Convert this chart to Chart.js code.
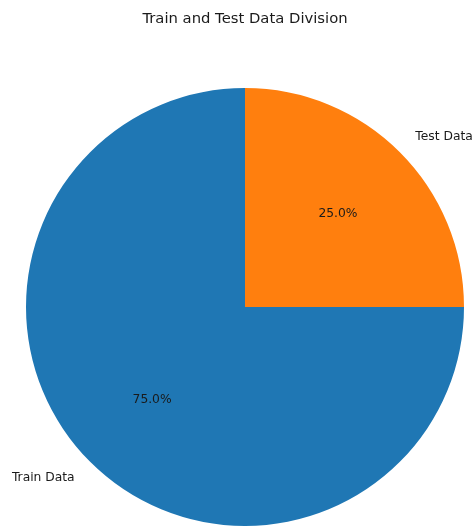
<!DOCTYPE html>
<html>
<head>
<meta charset="utf-8">
<script src="https://cdn.jsdelivr.net/npm/chart.js@4/dist/chart.umd.min.js"></script>
<style>
  html, body { margin: 0; padding: 0; background: #fff; }
  #wrap { width: 475px; height: 527px; position: relative; }
</style>
</head>
<body>
<div id="wrap"><canvas id="split"></canvas></div>
<script>
// train / test split
const categories = ['Train Data', 'Test Data'];
const shares = [75, 25];
const colors = ['#1f77b4', '#ff7f0e'];
const chartTitle = 'Train and Test Data Division';

const FONT = '"DejaVu Sans", sans-serif';

// slice names outside the pie, percentages inside
const sliceText = {
  id: 'sliceText',
  afterDatasetsDraw(chart) {
    const ctx = chart.ctx;
    const meta = chart.getDatasetMeta(0);
    const total = shares.reduce((a, b) => a + b, 0);
    ctx.save();
    ctx.fillStyle = '#1a1a1a';
    meta.data.forEach((arc, i) => {
      const p = arc.getProps(['x', 'y', 'startAngle', 'endAngle', 'outerRadius'], true);
      const mid = (p.startAngle + p.endAngle) / 2;
      const cx = Math.cos(mid), cy = Math.sin(mid);

      ctx.font = '12.3px ' + FONT;
      ctx.textBaseline = 'middle';
      ctx.textAlign = 'center';
      const pct = (shares[i] / total * 100).toFixed(1) + '%';
      ctx.fillText(pct, p.x + cx * p.outerRadius * 0.6, p.y + cy * p.outerRadius * 0.6);

      ctx.textAlign = cx >= 0 ? 'left' : 'right';
      ctx.fillText(categories[i], p.x + cx * p.outerRadius * 1.1, p.y + cy * p.outerRadius * 1.1);
    });
    ctx.font = '14.8px ' + FONT;
    ctx.textAlign = 'center';
    ctx.textBaseline = 'middle';
    ctx.fillText(chartTitle, 245, 19);
    ctx.restore();
  }
};

new Chart(document.getElementById('split').getContext('2d'), {
  type: 'pie',
  data: {
    labels: categories,
    datasets: [{
      data: shares,
      backgroundColor: colors,
      borderWidth: 0
    }]
  },
  options: {
    responsive: true,
    maintainAspectRatio: false,
    animation: false,
    rotation: 90,
    layout: { padding: { left: 26, right: 11, top: 88, bottom: 1 } },
    plugins: {
      legend: { display: false },
      tooltip: { enabled: false },
      title: { display: false }
    }
  },
  plugins: [sliceText]
});
</script>
</body>
</html>
